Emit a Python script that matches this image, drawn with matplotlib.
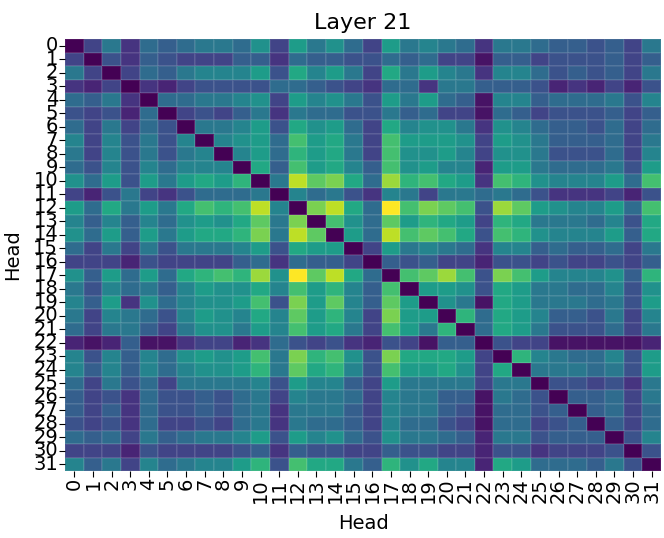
import matplotlib
matplotlib.use("Agg")
import matplotlib.pyplot as plt
import numpy as np
import seaborn as sns

# head-vs-head scores for layer 21 (0 = diagonal, 20 = max)
heads = list(range(32))
layer = 21
scores = [
    [0, 4, 8, 3, 7, 6, 7, 8, 8, 7, 10, 4, 11, 8, 10, 7, 4, 11, 8, 9, 8, 7, 3, 8, 8, 7, 6, 6, 5, 6, 4, 8],
    [4, 0, 5, 3, 6, 5, 4, 4, 4, 6, 6, 3, 7, 6, 6, 5, 5, 7, 6, 7, 4, 4, 1, 6, 6, 4, 5, 5, 5, 6, 4, 6],
    [8, 4, 0, 4, 7, 6, 8, 9, 9, 9, 11, 5, 12, 9, 11, 8, 4, 12, 8, 11, 9, 8, 3, 9, 9, 7, 5, 6, 5, 6, 4, 8],
    [3, 2, 4, 0, 3, 2, 4, 5, 5, 5, 5, 7, 7, 6, 5, 4, 3, 7, 7, 3, 8, 8, 6, 6, 6, 5, 2, 3, 2, 4, 2, 5],
    [7, 6, 8, 3, 0, 7, 7, 8, 8, 9, 10, 4, 11, 9, 10, 8, 5, 11, 8, 11, 7, 6, 1, 9, 9, 6, 7, 7, 7, 8, 5, 9],
    [5, 4, 5, 2, 7, 0, 4, 5, 4, 6, 8, 3, 8, 7, 7, 5, 5, 8, 6, 7, 4, 4, 1, 7, 6, 4, 5, 5, 5, 6, 4, 6],
    [7, 4, 8, 4, 7, 5, 0, 8, 8, 9, 11, 5, 12, 10, 11, 7, 4, 12, 9, 10, 10, 8, 3, 10, 9, 7, 6, 6, 5, 7, 4, 7],
    [9, 4, 9, 5, 8, 5, 9, 0, 9, 10, 11, 7, 14, 11, 12, 8, 4, 14, 11, 11, 11, 10, 4, 11, 10, 8, 6, 6, 6, 7, 4, 8],
    [8, 4, 9, 5, 8, 5, 8, 9, 0, 9, 11, 7, 13, 11, 12, 8, 4, 14, 10, 10, 11, 9, 4, 10, 10, 8, 5, 5, 5, 7, 4, 9],
    [7, 5, 9, 5, 9, 7, 9, 9, 9, 0, 12, 6, 14, 11, 12, 9, 6, 14, 10, 11, 9, 9, 2, 11, 11, 8, 7, 7, 7, 8, 5, 11],
    [10, 7, 11, 5, 11, 8, 11, 12, 11, 13, 0, 8, 18, 15, 16, 12, 7, 17, 13, 14, 12, 11, 3, 14, 13, 10, 9, 9, 9, 11, 7, 14],
    [4, 2, 5, 8, 4, 3, 5, 7, 7, 7, 8, 0, 9, 7, 8, 5, 3, 9, 8, 4, 8, 8, 7, 8, 7, 5, 3, 3, 3, 4, 2, 5],
    [11, 7, 12, 8, 11, 8, 12, 14, 13, 14, 18, 9, 0, 16, 18, 12, 7, 20, 14, 16, 15, 14, 5, 17, 15, 11, 10, 9, 9, 11, 7, 14],
    [9, 6, 9, 6, 9, 7, 10, 11, 10, 12, 15, 8, 16, 0, 14, 10, 7, 15, 11, 13, 12, 11, 4, 13, 12, 8, 8, 8, 7, 9, 5, 12],
    [10, 7, 11, 6, 11, 8, 11, 12, 12, 13, 16, 8, 18, 15, 0, 11, 7, 18, 14, 15, 14, 12, 5, 14, 13, 10, 9, 9, 9, 11, 6, 12],
    [7, 4, 8, 4, 8, 5, 8, 8, 8, 9, 11, 5, 12, 11, 11, 0, 4, 11, 8, 9, 8, 7, 3, 9, 9, 6, 7, 6, 6, 7, 4, 8],
    [4, 4, 4, 2, 5, 4, 4, 4, 4, 6, 7, 3, 7, 6, 6, 4, 0, 6, 5, 6, 4, 4, 2, 5, 5, 4, 5, 4, 4, 5, 4, 6],
    [10, 6, 11, 7, 11, 7, 12, 13, 14, 13, 17, 10, 20, 15, 18, 12, 7, 0, 14, 15, 17, 14, 5, 16, 14, 11, 9, 9, 9, 10, 6, 13],
    [8, 5, 9, 7, 8, 6, 9, 11, 10, 10, 12, 9, 14, 11, 13, 9, 6, 14, 0, 11, 11, 10, 5, 12, 11, 8, 8, 7, 7, 9, 5, 10],
    [9, 6, 11, 3, 10, 7, 9, 10, 10, 11, 14, 5, 16, 11, 15, 9, 6, 15, 11, 0, 10, 8, 1, 12, 11, 8, 8, 8, 7, 8, 5, 11],
    [8, 4, 9, 8, 7, 5, 9, 11, 10, 9, 12, 9, 15, 11, 13, 9, 4, 16, 11, 11, 0, 13, 7, 12, 11, 9, 6, 6, 5, 8, 4, 9],
    [7, 4, 8, 8, 6, 4, 8, 10, 10, 8, 11, 9, 14, 11, 12, 8, 4, 14, 11, 8, 13, 0, 7, 12, 11, 8, 5, 5, 5, 7, 4, 8],
    [2, 1, 2, 6, 1, 1, 3, 4, 4, 2, 3, 7, 5, 4, 5, 3, 2, 5, 4, 1, 6, 6, 0, 5, 4, 4, 1, 1, 1, 1, 1, 2],
    [9, 5, 9, 6, 9, 7, 10, 11, 10, 11, 14, 8, 16, 13, 14, 10, 5, 16, 12, 12, 12, 11, 4, 0, 13, 9, 8, 7, 7, 9, 5, 11],
    [9, 6, 9, 6, 9, 7, 9, 10, 10, 11, 13, 8, 15, 12, 13, 9, 5, 14, 11, 11, 12, 10, 4, 12, 0, 8, 8, 8, 7, 8, 5, 11],
    [7, 4, 8, 5, 7, 4, 8, 8, 8, 8, 9, 5, 11, 9, 9, 6, 4, 11, 8, 8, 8, 8, 4, 8, 8, 0, 5, 5, 4, 5, 3, 8],
    [6, 4, 5, 3, 7, 5, 5, 6, 5, 7, 8, 4, 9, 8, 8, 7, 4, 9, 8, 8, 6, 6, 1, 8, 7, 5, 0, 6, 6, 7, 4, 8],
    [6, 4, 6, 3, 7, 5, 5, 6, 5, 7, 8, 3, 8, 8, 8, 6, 4, 9, 8, 8, 6, 5, 1, 7, 7, 5, 6, 0, 6, 7, 4, 7],
    [5, 4, 5, 3, 7, 4, 4, 5, 4, 7, 8, 3, 8, 7, 7, 6, 4, 9, 7, 7, 5, 4, 1, 7, 7, 4, 5, 6, 0, 6, 4, 7],
    [7, 6, 7, 4, 8, 6, 7, 8, 8, 9, 11, 5, 11, 9, 10, 7, 5, 10, 8, 8, 7, 6, 2, 8, 8, 5, 6, 6, 6, 0, 5, 9],
    [4, 4, 4, 2, 5, 4, 4, 4, 4, 5, 6, 3, 6, 5, 5, 4, 4, 6, 5, 5, 4, 4, 2, 5, 5, 3, 4, 4, 4, 5, 0, 5],
    [9, 6, 8, 4, 9, 7, 8, 9, 9, 11, 13, 5, 14, 12, 12, 8, 6, 13, 10, 12, 9, 9, 2, 12, 11, 7, 7, 7, 6, 8, 5, 0],
]

fig = plt.figure(figsize=(6.64, 5.38), dpi=100)
ax = fig.add_axes([0.098, 0.1245, 0.8975, 0.803])
sns.heatmap(np.array(scores), ax=ax, cmap="viridis", vmin=0, vmax=20, cbar=False,
            xticklabels=heads, yticklabels=heads,
            linewidths=0.3, linecolor=(1, 1, 1, 0.08))
ax.set_title(f"Layer {layer}", fontsize=16, pad=7)
ax.set_xlabel("Head", fontsize=14, labelpad=8)
ax.set_ylabel("Head", fontsize=14, labelpad=8)
ax.tick_params(axis="x", labelsize=14, rotation=90, length=4, pad=1)
ax.tick_params(axis="y", labelsize=14, rotation=0, length=4, pad=1)
fig.savefig("out.png", dpi=100)
